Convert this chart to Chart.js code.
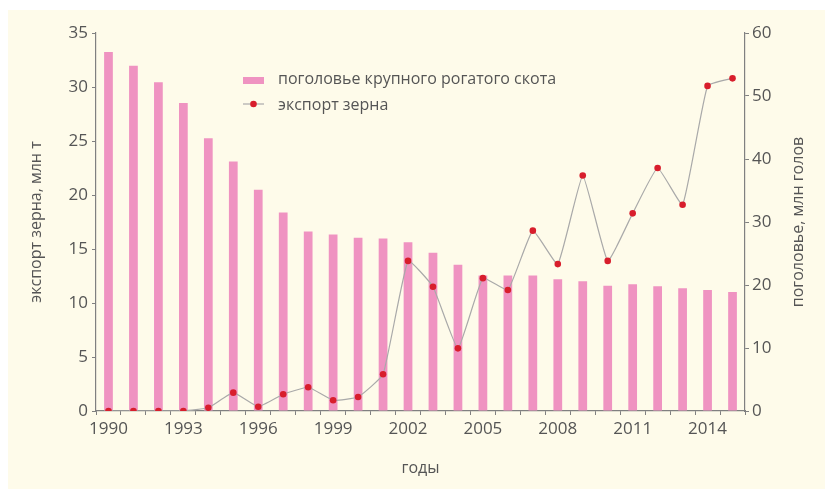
<!DOCTYPE html>
<html>
<head>
<meta charset="utf-8">
<script src="https://cdn.jsdelivr.net/npm/chart.js@4"></script>
<style>
  html, body { margin: 0; padding: 0; background: #ffffff; }
  #wrap {
    position: absolute; left: 8px; top: 10px;
    width: 817px; height: 479px;
    background: #fefbea;
  }
</style>
</head>
<body>
<div id="wrap"><canvas id="chart" width="817" height="479"></canvas></div>
<script>
// years on the x axis
const years = ['1990','1991','1992','1993','1994','1995','1996','1997','1998','1999',
               '2000','2001','2002','2003','2004','2005','2006','2007','2008','2009',
               '2010','2011','2012','2013','2014','2015'];

// поголовье КРС, млн голов (right axis)
const cattle = [57.0, 54.8, 52.2, 48.9, 43.3, 39.6, 35.1, 31.5, 28.5, 28.0,
                27.5, 27.4, 26.8, 25.1, 23.2, 21.5, 21.5, 21.5, 20.9, 20.6,
                19.9, 20.1, 19.8, 19.5, 19.2, 18.9];

// экспорт зерна, млн т (left axis)
const grainExport = [0, 0, 0, 0, 0.3, 1.7, 0.4, 1.55, 2.2, 1.0,
                     1.3, 3.4, 13.9, 11.5, 5.8, 12.3, 11.2, 16.7, 13.6, 21.8,
                     13.9, 18.3, 22.5, 19.1, 30.1, 30.8];

const leftTicks = [0, 35, 5];
const rightTicks = [0, 60, 10];

const rightTitle = 'поголовье, млн голов';

const colors = {
    bar: '#ef93c1',
    dot: '#d81e2c',
    line: '#a9a9a9',
    axis: '#808080',
    text: '#555555'
};

const fontFamily = '"Open Sans", "Noto Sans", sans-serif';

// legend drawn by hand, placed inside the plot like the original
const legendPlugin = {
    id: 'innerLegend',
    afterDraw(chart) {
        const ctx = chart.ctx;
        const ds = chart.data.datasets;
        ctx.save();
        ctx.font = '16px ' + fontFamily;
        ctx.textBaseline = 'middle';

        // bars entry
        ctx.fillStyle = colors.bar;
        ctx.fillRect(235, 67, 21, 7);
        ctx.fillStyle = colors.text;
        ctx.fillText(ds[1].label, 270, 69);

        // line entry
        ctx.strokeStyle = colors.line;
        ctx.lineWidth = 1.2;
        ctx.beginPath();
        ctx.moveTo(235, 94);
        ctx.lineTo(256, 94);
        ctx.stroke();
        ctx.fillStyle = colors.dot;
        ctx.beginPath();
        ctx.arc(245.5, 94, 3.3, 0, Math.PI * 2);
        ctx.fill();
        ctx.fillStyle = colors.text;
        ctx.fillText(ds[0].label, 270, 95);

        // right axis title reads bottom-to-top in the original
        const area = chart.chartArea;
        const r = chart.scales.y1;
        ctx.translate(r.right - 27, (area.top + area.bottom) / 2);
        ctx.rotate(-Math.PI / 2);
        ctx.textAlign = 'center';
        ctx.fillText(rightTitle, 0, 0);
        ctx.restore();
    }
};

new Chart(document.getElementById('chart'), {
    data: {
        labels: years,
        datasets: [
            {
                type: 'line',
                label: 'экспорт зерна',
                data: grainExport,
                yAxisID: 'y',
                borderColor: colors.line,
                borderWidth: 1.2,
                tension: 0.12,
                pointRadius: 3.3,
                pointBackgroundColor: colors.dot,
                pointBorderWidth: 0,
                order: 0
            },
            {
                type: 'bar',
                label: 'поголовье крупного рогатого скота',
                data: cattle,
                yAxisID: 'y1',
                backgroundColor: colors.bar,
                categoryPercentage: 1,
                barPercentage: 0.35,
                order: 1
            }
        ]
    },
    options: {
        responsive: false,
        animation: false,
        layout: { padding: { top: 23, left: 0, right: 0, bottom: 0 } },
        plugins: {
            legend: { display: false },
            tooltip: { enabled: false }
        },
        scales: {
            x: {
                type: 'category',
                offset: true,
                border: { color: colors.axis, width: 1.2 },
                grid: {
                    offset: true,
                    drawOnChartArea: false,
                    drawTicks: true,
                    tickLength: 4,
                    color: colors.axis
                },
                ticks: {
                    autoSkip: false,
                    maxRotation: 0,
                    padding: 4,
                    color: colors.text,
                    font: { family: fontFamily, size: 17 },
                    callback: function(value, index) {
                        return index % 3 === 0 ? years[index] : '';
                    }
                },
                title: {
                    display: true,
                    text: 'годы',
                    color: colors.text,
                    font: { family: fontFamily, size: 16, lineHeight: 1.2 },
                    padding: { top: 0, bottom: 11 }
                },
                afterFit: function(scale) { scale.height = 78; }
            },
            y: {
                position: 'left',
                min: leftTicks[0],
                max: leftTicks[1],
                border: { color: colors.axis, width: 1.2 },
                grid: {
                    drawOnChartArea: false,
                    tickLength: 4,
                    color: colors.axis
                },
                ticks: {
                    stepSize: leftTicks[2],
                    padding: 4,
                    color: colors.text,
                    font: { family: fontFamily, size: 17 }
                },
                title: {
                    display: true,
                    text: 'экспорт зерна, млн т',
                    color: colors.text,
                    font: { family: fontFamily, size: 16, lineHeight: 1.2 },
                    padding: { top: 19, bottom: 0 }
                },
                afterFit: function(scale) { scale.width = 88; }
            },
            y1: {
                position: 'right',
                min: rightTicks[0],
                max: rightTicks[1],
                border: { color: colors.axis, width: 1.2 },
                grid: {
                    drawOnChartArea: false,
                    tickLength: 4,
                    color: colors.axis
                },
                ticks: {
                    stepSize: rightTicks[2],
                    padding: 3,
                    color: colors.text,
                    font: { family: fontFamily, size: 17 }
                },
                title: { display: false },
                afterFit: function(scale) { scale.width = 80; }
            }
        }
    },
    plugins: [legendPlugin]
});
</script>
</body>
</html>
